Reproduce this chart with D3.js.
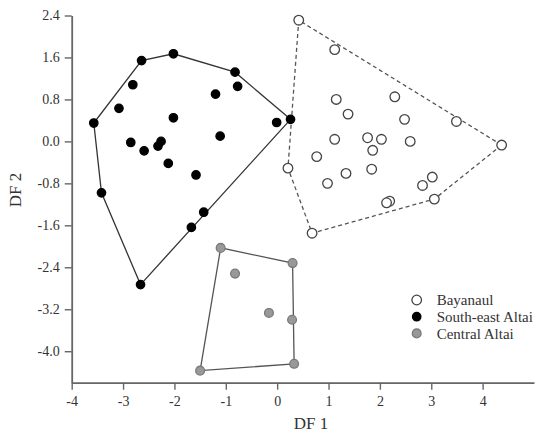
<!DOCTYPE html>
<html>
<head>
<meta charset="utf-8">
<script src="https://cdn.jsdelivr.net/npm/d3@7"></script>
<style>
  body { margin: 0; background: #fff; }
  svg { display: block; font-family: "Liberation Serif", "Times New Roman", serif; }
</style>
</head>
<body>
<svg id="chart" width="539" height="439"></svg>
<script>
// DF1 / DF2 scores
const bayanaul = [
  [0.42, 2.31], [1.12, 1.75], [1.15, 0.80], [1.38, 0.52], [2.29, 0.85],
  [2.48, 0.42], [3.49, 0.38], [4.37, -0.07], [1.12, 0.04], [1.76, 0.07],
  [2.03, 0.04], [1.86, -0.17], [2.59, 0.00], [0.77, -0.29], [0.21, -0.51],
  [1.34, -0.61], [1.84, -0.53], [0.98, -0.80], [3.02, -0.68], [2.83, -0.84],
  [3.06, -1.10], [2.19, -1.14], [2.13, -1.17], [0.68, -1.75]
]
const southEastAltai = [
  [-3.57, 0.35], [-2.64, 1.54], [-2.02, 1.67], [-0.82, 1.32], [-0.77, 1.05],
  [-2.81, 1.08], [-3.08, 0.63], [-1.20, 0.90], [-2.02, 0.45], [-0.01, 0.36],
  [-1.11, 0.10], [-2.85, -0.02], [-2.59, -0.18], [-2.32, -0.09], [-2.26, 0.00],
  [-2.12, -0.42], [-1.58, -0.64], [-3.42, -0.98], [-1.43, -1.35], [-1.67, -1.64],
  [-2.66, -2.73], [0.26, 0.42]
]
const centralAltai = [
  [-1.10, -2.03], [0.30, -2.32], [-0.82, -2.52], [-0.16, -3.27],
  [0.29, -3.40], [0.33, -4.24], [-1.50, -4.37]
]
const groupNames = ['Bayanaul', 'South-east Altai', 'Central Altai']
const xTicks = [-4, -3, -2, -1, 0, 1, 2, 3, 4]
const yTicks = [-4.0, -3.2, -2.4, -1.6, -0.8, 0.0, 0.8, 1.6, 2.4]

const styles = [
  { fill: '#fff', stroke: '#444', hull: '#555', dash: '4,3', r: 4.8 },
  { fill: '#000', stroke: '#000', hull: '#333', dash: null, r: 4.2 },
  { fill: '#999', stroke: '#7a7a7a', hull: '#555', dash: null, r: 4.4 }
]
const groups = [bayanaul, southEastAltai, centralAltai]

const svg = d3.select('#chart')
const x = d3.scaleLinear().domain([-4, 5]).range([71.7, 534])
const y = d3.scaleLinear().domain([-4.6, 2.4]).range([382.7, 15.5])

// axes
const xAxis = svg.append('g')
  .attr('transform', 'translate(0,382.7)')
  .call(d3.axisBottom(x).tickValues(xTicks).tickFormat(d => String(d))
    .tickSizeInner(7).tickSizeOuter(0).tickPadding(6))
const yAxis = svg.append('g')
  .attr('transform', 'translate(71.7,0)')
  .call(d3.axisLeft(y).tickValues(yTicks).tickFormat(d => d.toFixed(1))
    .tickSizeInner(7).tickSizeOuter(0).tickPadding(5))

for (const ax of [xAxis, yAxis]) {
  ax.select('.domain').attr('stroke', '#666').attr('stroke-width', 1.8)
  ax.selectAll('.tick line').attr('stroke', '#666').attr('stroke-width', 1.4)
  ax.selectAll('.tick text')
    .attr('fill', '#333')
    .style('font-family', '"Liberation Serif", serif')
    .style('font-size', '14px')
}

svg.append('text')
  .attr('x', 311)
  .attr('y', 429)
  .attr('text-anchor', 'middle')
  .attr('fill', '#333')
  .style('font-size', '17px')
  .text('DF 1')
svg.append('text')
  .attr('transform', 'translate(21,190) rotate(-90)')
  .attr('text-anchor', 'middle')
  .attr('fill', '#333')
  .style('font-size', '17px')
  .text('DF 2')

// convex hulls
groups.forEach((pts, i) => {
  const hull = d3.polygonHull(pts.map(p => [x(p[0]), y(p[1])]))
  svg.append('path')
    .attr('d', 'M' + hull.join('L') + 'Z')
    .attr('fill', 'none')
    .attr('stroke', styles[i].hull)
    .attr('stroke-width', 1.3)
    .attr('stroke-dasharray', styles[i].dash)
})

// points
groups.forEach((pts, i) => {
  svg.append('g')
    .selectAll('circle')
    .data(pts)
    .enter()
    .append('circle')
    .attr('cx', d => x(d[0]))
    .attr('cy', d => y(d[1]))
    .attr('r', styles[i].r)
    .style('fill', styles[i].fill)
    .style('stroke', styles[i].stroke)
    .style('stroke-width', 1.3)
})

// legend
const legend = svg.append('g')
  .selectAll('g')
  .data(groupNames)
  .enter()
  .append('g')
  .attr('transform', (d, i) => `translate(416.7,${300 + i * 16.7})`)
legend.append('circle')
  .attr('r', (d, i) => styles[i].r)
  .style('fill', (d, i) => styles[i].fill)
  .style('stroke', (d, i) => styles[i].stroke)
  .style('stroke-width', 1.3)
legend.append('text')
  .attr('x', 20)
  .attr('dy', '0.35em')
  .attr('fill', '#333')
  .style('font-size', '15px')
  .text(d => d)
</script>
</body>
</html>
